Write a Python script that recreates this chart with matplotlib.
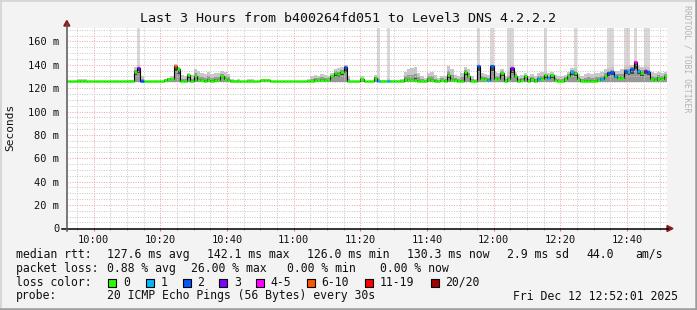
import datetime as dt
import matplotlib
matplotlib.use("Agg")
import matplotlib.pyplot as plt
import matplotlib.dates as mdates
from matplotlib.lines import Line2D
from matplotlib.patches import Polygon, Rectangle
import numpy as np

W, H = 697, 310
FONT = "DejaVu Sans Mono"

# ---- data (one value per minute, 09:52:01 .. 12:52:01) ----
start = dt.datetime(2025, 12, 12, 9, 52, 1)

median_ms = [
    126, 126, 126, 126, 126, 126, 126, 126, 126, 126,
    126, 126, 126, 126, 126, 126, 126, 126, 126, 126,
    134, 137, 126, 126, 126, 126, 126, 126, 126, 127,
    128, 128, 139, 136, 126, 126, 131, 126, 130, 127,
    127, 126, 127, 126, 127, 127, 130, 128, 127, 126,
    126, 126, 126, 126, 126, 126, 126, 126, 127, 127,
    127, 126, 126, 126, 126, 126, 126, 126, 126, 126,
    126, 126, 126, 126, 127, 127, 127, 127, 127, 130,
    133, 132, 134, 138, 126, 126, 126, 126, 128, 126,
    126, 126, 129, 126, 126, 126, 126, 126, 126, 126,
    126, 128, 127, 127, 127, 126, 126, 126, 128, 127,
    126, 126, 127, 126, 131, 127, 127, 126, 126, 134,
    130, 126, 126, 139, 128, 128, 127, 139, 128, 128,
    133, 126, 128, 137, 130, 126, 127, 130, 126, 128,
    126, 128, 128, 131, 129, 131, 127, 126, 126, 128,
    130, 134, 133, 128, 126, 126, 126, 126, 126, 127,
    128, 130, 133, 134, 130, 129, 129, 135, 134, 136,
    142, 135, 133, 135, 134, 128, 127, 129, 128, 130,
]

loss_pings = [
    0, 0, 0, 0, 0, 0, 0, 0, 0, 0,
    0, 0, 0, 0, 0, 0, 0, 0, 0, 0,
    0, 3, 2, 0, 0, 0, 0, 0, 0, 0,
    0, 0, 6, 0, 0, 0, 0, 0, 0, 0,
    0, 0, 0, 0, 0, 0, 0, 0, 0, 0,
    0, 0, 0, 0, 0, 0, 0, 0, 0, 0,
    0, 0, 0, 0, 0, 0, 0, 0, 0, 0,
    0, 0, 0, 0, 0, 0, 0, 0, 0, 0,
    0, 0, 0, 2, 0, 0, 0, 0, 0, 0,
    0, 0, 0, 1, 0, 0, 1, 0, 0, 0,
    0, 0, 0, 0, 0, 0, 0, 0, 0, 0,
    0, 0, 0, 0, 0, 0, 0, 0, 0, 0,
    0, 0, 0, 2, 0, 0, 1, 2, 0, 0,
    0, 0, 0, 3, 0, 0, 0, 0, 0, 0,
    0, 1, 0, 0, 1, 0, 0, 0, 0, 0,
    0, 1, 0, 0, 0, 0, 0, 0, 0, 0,
    1, 0, 2, 2, 1, 0, 0, 2, 1, 2,
    4, 1, 0, 3, 2, 0, 0, 0, 0, 0,
]

smoke_top_ms = [
    126.5, 126.5, 126.5, 128, 128, 127.5, 126.5, 126.5, 126.5, 126.5,
    126.5, 126.5, 126.5, 126.5, 126.5, 126.5, 126.5, 126.5, 127, 127,
    138, 140, 130, 126.5, 126.5, 126.5, 126.5, 126.5, 126.5, 128,
    129, 130, 141, 138, 131, 130, 133, 131, 136, 135,
    133, 132, 134, 132, 133, 133, 135, 134, 132, 128,
    127, 128, 126.5, 126.5, 128, 128, 126.5, 126.5, 127.5, 127.5,
    127.5, 126.5, 126.5, 126.5, 126.5, 126.5, 126.5, 126.5, 126.5, 126.5,
    126.5, 126.5, 128, 130, 131, 130, 132, 131, 130, 133,
    136, 137, 138, 140, 130, 126.5, 126.5, 126.5, 130, 126.5,
    126.5, 126.5, 131, 130, 127, 127, 129, 127, 127, 127,
    128, 134, 136, 137, 138, 133, 130, 129, 133, 134,
    131, 129, 130, 130, 139, 136, 131, 130, 133, 138,
    136, 130, 128, 141, 133, 132, 131, 141, 134, 133,
    136, 130, 134, 140, 134, 130, 131, 133, 130, 132,
    130, 133, 134, 134, 133, 134, 131, 130, 130, 131,
    134, 137, 137, 132, 130, 132, 133, 132, 133, 133,
    134, 136, 137, 138, 135, 135, 136, 139, 139, 140,
    144, 139, 138, 139, 138, 134, 133, 134, 133, 134,
]

# 1 where single pings went off the top of the graph
off_scale = [0] * 180
for i in [21, 93, 96, 123, 127, 132, 133, 143, 152, 162, 163, 167, 168, 170, 173, 174]:
    off_scale[i] = 1

smoke_floor_ms = 125.6
y_max_ms = 171.5

y_ticks = [0, 20, 40, 60, 80, 100, 120, 140, 160]
y_tick_labels = ["0", "20 m", "40 m", "60 m", "80 m", "100 m", "120 m", "140 m", "160 m"]
x_tick_labels = ["10:00", "10:20", "10:40", "11:00", "11:20", "11:40", "12:00", "12:20", "12:40"]

loss_names = ["0", "1", "2", "3", "4-5", "6-10", "11-19", "20/20"]
loss_upper = [0, 1, 2, 3, 5, 10, 19, 20]
loss_colors = ["#26ff00", "#00b8ff", "#0059ff", "#7e00ff", "#ff00ff", "#ff5500", "#ff0000", "#a00000"]

title = "Last 3 Hours from b400264fd051 to Level3 DNS 4.2.2.2"
rtt_row = ["median rtt:", "127.6 ms avg", "142.1 ms max", "126.0 ms min",
           "130.3 ms now", "2.9 ms sd", "44.0", "am/s"]
loss_row = ["packet loss:", "0.88 % avg", "26.00 % max", "0.00 % min", "0.00 % now"]
probe_row = ["probe:", "20 ICMP Echo Pings (56 Bytes) every 30s", "Fri Dec 12 12:52:01 2025"]


def fx(px):
    return px / W


def fy(py):
    return 1 - py / H


fig = plt.figure(figsize=(W / 100, H / 100), dpi=100, facecolor="#f3f3f3")
ax = fig.add_axes([fx(67), fy(228.3), 600 / W, 200.3 / H])
ax.set_facecolor("white")

t = [start + dt.timedelta(minutes=i) for i in range(len(median_ms))]
tn = mdates.date2num(t)
w = 1 / 1440
med = np.array(median_ms, dtype=float)
top = np.array(smoke_top_ms, dtype=float)
spk = np.array(off_scale, dtype=bool)

# smoke
ax.bar(tn[spk], y_max_ms - smoke_floor_ms, width=w, bottom=smoke_floor_ms, align="edge",
       color="#d8d8d8", linewidth=0, antialiased=False, zorder=1)
ax.bar(tn, top - smoke_floor_ms, width=w, bottom=smoke_floor_ms, align="edge",
       color="#c8c8c8", linewidth=0, antialiased=False, zorder=1)
mid_top = med + 0.45 * (top - med)
ax.bar(tn, mid_top - smoke_floor_ms, width=w, bottom=smoke_floor_ms, align="edge",
       color="#989898", linewidth=0, antialiased=False, zorder=1)
dark_lo = med - 0.35 * (med - smoke_floor_ms)
dark_hi = med + 0.12 * (top - med)
ax.bar(tn, dark_hi - dark_lo, width=w, bottom=dark_lo, align="edge",
       color="#484848", linewidth=0, antialiased=False, zorder=1)

# median, coloured by loss
bucket = np.searchsorted(loss_upper, loss_pings)
ax.step(np.append(tn, tn[-1] + w), np.append(med, med[-1]), where="post",
        color="black", lw=0.8, zorder=3)
ax.hlines(med, tn, tn + w, colors=[loss_colors[b] for b in bucket], lw=1.8, zorder=4)

ax.set_xlim(mdates.date2num(start), mdates.date2num(start + dt.timedelta(hours=3)))
ax.set_ylim(0, y_max_ms)

day = start.date()
ax.set_xticks([mdates.date2num(dt.datetime.combine(day, dt.time.fromisoformat(s))) for s in x_tick_labels])
ax.set_xticklabels(x_tick_labels)
ax.xaxis.set_minor_locator(mdates.MinuteLocator(byminute=range(0, 60, 5)))
ax.set_yticks(y_ticks)
ax.set_yticklabels(y_tick_labels)
ax.set_yticks(np.arange(0, 171, 5), minor=True)

ax.set_axisbelow(False)
ax.grid(which="major", color="#f0a0a0", ls=(0, (1, 1.5)), lw=0.7)
ax.grid(which="minor", color="#c6c6c6", ls=(0, (1, 1.5)), lw=0.7)
for s in ax.spines.values():
    s.set_visible(False)
ax.tick_params(axis="x", which="major", length=2, color="#e07070", pad=3,
               labelsize=7.5, labelfontfamily=FONT, labelcolor="#111111")
ax.tick_params(axis="x", which="minor", length=1.5, color="#999999")
ax.tick_params(axis="y", which="both", length=0, pad=5.5,
               labelsize=7.5, labelfontfamily=FONT, labelcolor="#111111")

# axis lines with arrows
fig.add_artist(Line2D([fx(62), fx(668)], [fy(228.5), fy(228.5)], color="black", lw=1.1))
fig.add_artist(Line2D([fx(66.8), fx(66.8)], [fy(231), fy(24)], color="#555555", lw=1.1))
fig.add_artist(Polygon([[fx(667), fy(225.5)], [fx(667), fy(231.5)], [fx(673), fy(228.5)]],
                       closed=True, color="#8b1a1a", transform=fig.transFigure))
fig.add_artist(Polygon([[fx(63.8), fy(26)], [fx(69.8), fy(26)], [fx(66.8), fy(20.5)]],
                       closed=True, color="#8b1a1a", transform=fig.transFigure))

# texts
fig.text(fx(348.5), fy(19), title, ha="center", va="center", fontsize=9.6, family=FONT, color="#111111")
fig.text(fx(10), fy(127), "Seconds", rotation=90, ha="center", va="center",
         fontsize=8, family=FONT, color="#111111")
fig.text(fx(687.5), fy(59), "RRDTOOL / TOBI OETIKER", rotation=270, ha="center", va="center",
         fontsize=5.9, family=FONT, color="#b4b4b4")

rtt_x = [16, 107.3, 207.3, 307.3, 407.3, 507.3, 586, 635]
for s, x in zip(rtt_row, rtt_x):
    fig.text(fx(x), fy(254.3), s, ha="left", va="center", fontsize=8.3, family=FONT, color="#111111")
loss_x = [16, 107.3, 190.7, 286.7, 380]
for s, x in zip(loss_row, loss_x):
    fig.text(fx(x), fy(268.3), s, ha="left", va="center", fontsize=8.3, family=FONT, color="#111111")
fig.text(fx(16), fy(282.3), "loss color:", ha="left", va="center", fontsize=8.3, family=FONT, color="#111111")
box_x = [108.3, 145.7, 182.7, 219.3, 256, 306.7, 365, 430.7]
for name, col, x in zip(loss_names, loss_colors, box_x):
    fig.add_artist(Rectangle((fx(x), fy(286.5)), 8 / W, 8 / H, facecolor=col,
                             edgecolor="black", lw=0.8, transform=fig.transFigure))
    fig.text(fx(x + 14.5), fy(282.3), name, ha="left", va="center", fontsize=8.3,
             family=FONT, color="#111111")
probe_x = [16, 107.3, 513.3]
for s, x in zip(probe_row, probe_x):
    fig.text(fx(x), fy(296), s, ha="left", va="center", fontsize=8.3, family=FONT, color="#111111")

# 3d frame
fig.add_artist(Line2D([0, 1], [fy(0.8), fy(0.8)], color="#d4d4d4", lw=1.3))
fig.add_artist(Line2D([fx(0.8), fx(0.8)], [0, 1], color="#d4d4d4", lw=1.3))
fig.add_artist(Line2D([0, 1], [fy(308.8), fy(308.8)], color="#9c9c9c", lw=1.8))
fig.add_artist(Line2D([fx(695.8), fx(695.8)], [0, 1], color="#9c9c9c", lw=1.8))

fig.savefig("out.png", dpi=100, facecolor=fig.get_facecolor())
